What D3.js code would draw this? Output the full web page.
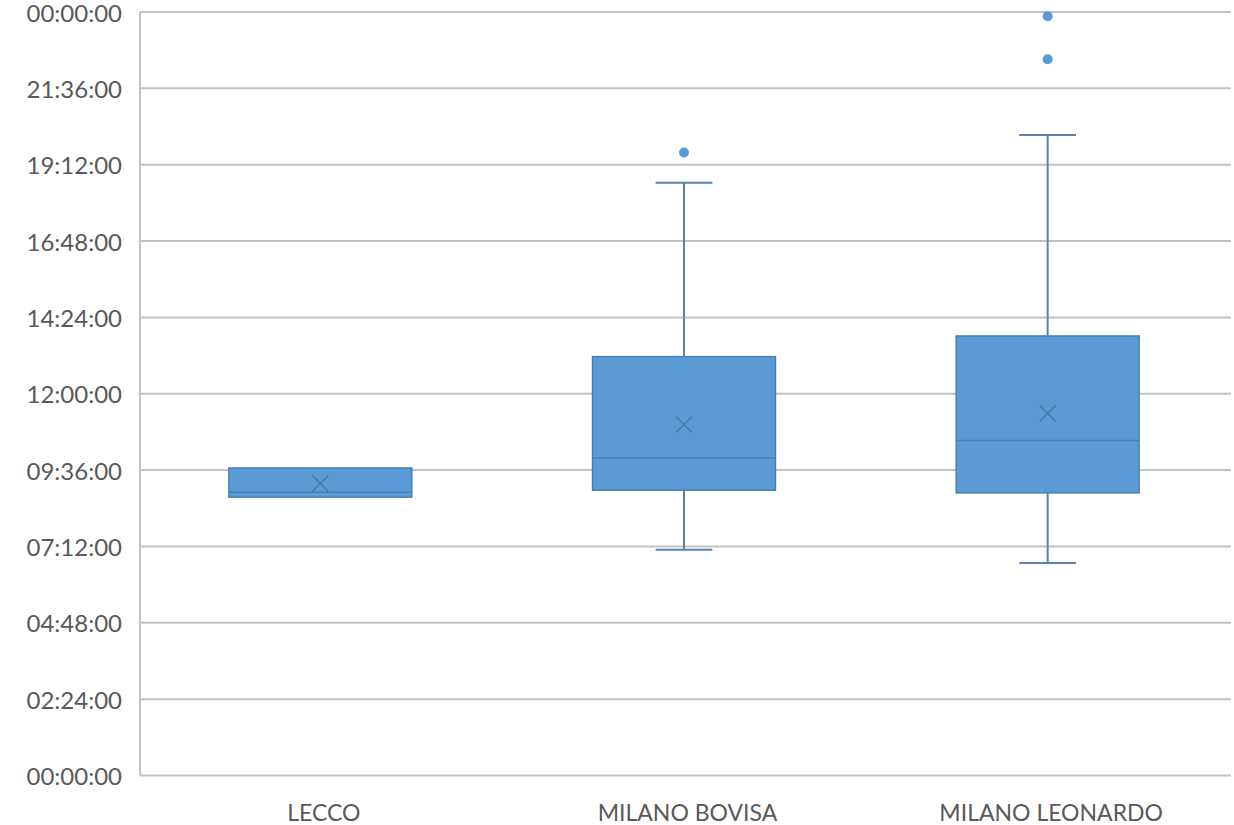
<!DOCTYPE html>
<html>
<head>
<meta charset="utf-8">
<script src="https://cdn.jsdelivr.net/npm/d3@7"></script>
<style>
  html, body { margin: 0; padding: 0; background: #fff; }
  svg { display: block; }
</style>
</head>
<body>
<svg id="chart" width="1234" height="825"></svg>
<script>
// ---- data (times as HH:MM) ----
const categories = ["LECCO", "MILANO BOVISA", "MILANO LEONARDO"];
const whiskerLow  = ["08:45", "07:06", "06:41"];
const quartile1   = ["08:45", "08:58", "08:53"];
const medians     = ["08:54", "09:59", "10:32"];
const quartile3   = ["09:40", "13:10", "13:49"];
const whiskerHigh = ["09:40", "18:38", "20:08"];
const means       = ["09:11", "11:02", "11:23"];
const outliers    = [[], ["19:35"], ["22:31", "23:52"]];
const tickHours   = [0, 2.4, 4.8, 7.2, 9.6, 12, 14.4, 16.8, 19.2, 21.6, 24];

(function () {
// ---- helpers ----
const toH = s => { const [h, m] = s.split(":").map(Number); return h + m / 60; };
const fmt = h => {
  const tot = Math.round(h * 60) % (24 * 60);
  const hh = Math.floor(tot / 60), mm = tot % 60;
  const p = n => String(n).padStart(2, "0");
  return p(hh) + ":" + p(mm) + ":00";
};

const rows = categories.map((c, i) => ({
  cat: c,
  lo: toH(whiskerLow[i]), q1: toH(quartile1[i]), med: toH(medians[i]),
  q3: toH(quartile3[i]), hi: toH(whiskerHigh[i]), mean: toH(means[i]),
  out: outliers[i].map(toH)
}));

const svg = d3.select("#chart");
const mLeft = 140, mRight = 1231, mTop = 12, mBottom = 775.5;

const x = d3.scaleBand().domain(categories).range([mLeft, mRight]).padding(0);
const y = d3.scaleLinear().domain([0, 24]).range([mBottom, mTop]);

const gridColor = "#c2c2c2";
const textColor = "#595959";
const fontFam = "Lato, 'Open Sans', sans-serif";

// gridlines
svg.append("g").selectAll("line").data(tickHours).join("line")
  .attr("x1", mLeft).attr("x2", mRight)
  .attr("y1", d => y(d)).attr("y2", d => y(d))
  .attr("stroke", gridColor).attr("stroke-width", 2);

// left axis line
svg.append("line").attr("x1", mLeft).attr("x2", mLeft).attr("y1", mTop).attr("y2", mBottom)
  .attr("stroke", gridColor).attr("stroke-width", 2);

// y labels
svg.append("g").selectAll("text").data(tickHours).join("text")
  .attr("x", 122).attr("y", d => y(d) + 3.5)
  .attr("text-anchor", "end").attr("dominant-baseline", "middle")
  .attr("fill", textColor).attr("font-family", fontFam).attr("font-size", 24)
  .text(d => fmt(d));

// x labels
svg.append("g").selectAll("text").data(categories).join("text")
  .attr("x", d => x(d) + x.bandwidth() / 2 + 2).attr("y", 821)
  .attr("text-anchor", "middle")
  .attr("fill", textColor).attr("font-family", fontFam).attr("font-size", 23)
  .text(d => d);

const boxW = x.bandwidth() * 0.503;
const capW = boxW * 0.31;
const whiskColor = "#5a82ae";
const boxFill = "#5b9bd5";
const boxStroke = "#4a7fb5";

const g = svg.append("g").selectAll("g").data(rows).join("g")
  .attr("transform", d => `translate(${x(d.cat) + x.bandwidth() / 2 - 1.5},0)`);

// whiskers
g.append("line").attr("x1", 0).attr("x2", 0)
  .attr("y1", d => y(d.hi)).attr("y2", d => y(d.q3))
  .attr("stroke", whiskColor).attr("stroke-width", 2);
g.append("line").attr("x1", 0).attr("x2", 0)
  .attr("y1", d => y(d.q1)).attr("y2", d => y(d.lo))
  .attr("stroke", whiskColor).attr("stroke-width", 2);
g.filter(d => d.hi > d.q3).append("line")
  .attr("x1", -capW / 2).attr("x2", capW / 2)
  .attr("y1", d => y(d.hi)).attr("y2", d => y(d.hi))
  .attr("stroke", whiskColor).attr("stroke-width", 2);
g.filter(d => d.lo < d.q1).append("line")
  .attr("x1", -capW / 2).attr("x2", capW / 2)
  .attr("y1", d => y(d.lo)).attr("y2", d => y(d.lo))
  .attr("stroke", whiskColor).attr("stroke-width", 2);

// box
g.append("rect")
  .attr("x", -boxW / 2).attr("width", boxW)
  .attr("y", d => y(d.q3)).attr("height", d => y(d.q1) - y(d.q3))
  .attr("fill", boxFill).attr("stroke", boxStroke).attr("stroke-width", 1.5);

// median
g.append("line").attr("x1", -boxW / 2).attr("x2", boxW / 2)
  .attr("y1", d => y(d.med)).attr("y2", d => y(d.med))
  .attr("stroke", boxStroke).attr("stroke-width", 1.5);

// mean marker X
const xs = 8;
g.append("path")
  .attr("d", d => {
    const cy = y(d.mean);
    return `M${-xs},${cy - xs}L${xs},${cy + xs}M${-xs},${cy + xs}L${xs},${cy - xs}`;
  })
  .attr("stroke", "#4a7aab").attr("stroke-width", 1.5).attr("fill", "none");

// outliers
g.selectAll("circle").data(d => d.out).join("circle")
  .attr("cx", 0).attr("cy", d => y(d)).attr("r", 5)
  .attr("fill", boxFill);
})();
</script>
</body>
</html>
